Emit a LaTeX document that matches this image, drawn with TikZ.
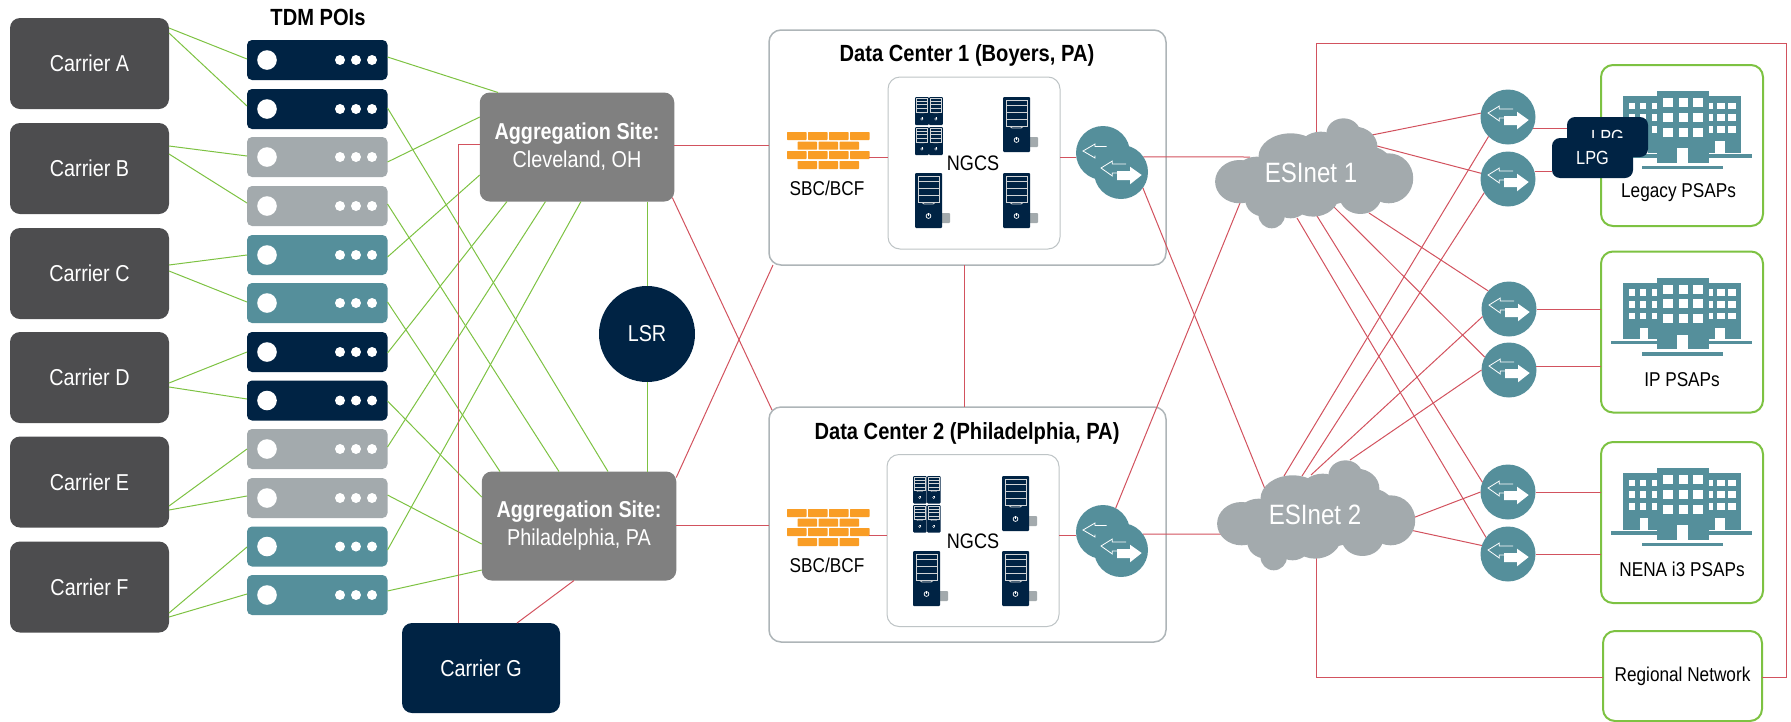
\documentclass[tikz,border=0pt]{standalone}
\usepackage{fontspec}
\setmainfont[FakeStretch=0.86]{Liberation Sans}
\usetikzlibrary{shapes.geometric}
\definecolor{navy}{HTML}{002344}
\definecolor{cgray}{HTML}{A3AAAD}
\definecolor{teal2}{HTML}{558F9B}
\definecolor{dgray}{HTML}{4D4D4F}
\definecolor{agray}{HTML}{808080}
\definecolor{lgreen}{HTML}{7DC242}
\definecolor{lred}{HTML}{D2525E}
\definecolor{brick}{HTML}{F99D25}
\definecolor{bordergray}{HTML}{AEB5B8}
\newcommand\fsz[1]{\fontsize{#1}{#1}\selectfont}
\tikzset{
  every node/.style={inner sep=0pt,outer sep=0pt},
  carrierbox/.style={rounded corners=10pt,fill=dgray,text=white,minimum width=159pt,minimum height=91pt,font=\fsz{23}},
  poibox/.style={rounded corners=5pt,minimum width=140.5pt,minimum height=40pt},
  aggbox/.style={rounded corners=10pt,fill=agray,text=white,minimum width=194.5pt,minimum height=109pt,align=center,font=\fontsize{23}{28}\selectfont},
  dcbox/.style={rounded corners=12pt,draw=bordergray,line width=1.5pt,fill=white,minimum width=397pt,minimum height=235pt},
  ngcsbox/.style={rounded corners=12pt,draw=bordergray!80,line width=1pt,fill=white,minimum width=172pt,minimum height=172pt},
  psapbox/.style={rounded corners=12pt,draw=lgreen,line width=2pt,fill=white,minimum width=162pt,minimum height=161pt},
  lpgbox/.style={rounded corners=8pt,fill=navy,text=white,minimum width=81pt,minimum height=40pt,font=\fsz{19}},
  routernode/.style={circle,fill=teal2,minimum size=55pt},
  gline/.style={draw=lgreen,line width=1pt},
  rline/.style={draw=lred,line width=1pt},
  blacklabel/.style={text=black,font=\fsz{20}},
  titlelabel/.style={text=black,font=\bfseries\fsz{23.4}},
}
% POI server unit
\newcommand\poiunit[3]{%
  \node[poibox,fill=#3] (#1) at (317.25,#2) {};
  \fill[white] (267,#2) circle (9.8pt);
  \foreach \dx in {340,356,372} \fill[white] (\dx,#2) circle (5pt);
}
% arrows inside a router, centred at (#1,#2)
\newcommand\arrowglyph[2]{%
  \begin{scope}[shift={(#1,#2)}]
    \draw[white,line width=0.8pt,line join=miter] (5,-8) -- (-8.7,-8) -- (-8.7,-11) -- (-20,-4) -- (-8.7,4) -- (-8.7,1) -- (-3,1);
    \fill[white] (-4,-1) -- (9,-1) -- (9,-5.3) -- (20.7,3) -- (9,12.3) -- (9,8) -- (-4,8) -- cycle;
  \end{scope}
}
\newcommand\thinarrow[2]{%
  \begin{scope}[shift={(#1,#2)}]
    \draw[white,line width=0.8pt,line join=miter] (3.5,-6.5) -- (-8,-6.5) -- (-8,-9) -- (-20,-2) -- (-8,5) -- (-8,2.5);
  \end{scope}
}
\newcommand\servertower[3]{%
  \begin{scope}[shift={(#1,#2)},xscale=#3,yscale=#3]
    \fill[navy,rounded corners=1pt] (0,0) rectangle (27,55);
    \draw[cgray!50!white,line width=#3*0.9pt] (3,3) rectangle (24,29);
    \foreach \yy in {8,15,22} \draw[cgray!50!white,line width=#3*0.9pt] (3,\yy) -- (24,\yy);
    \draw[cgray!50!white,line width=#3*0.9pt] (7,29.5) -- (9,31) -- (18,31) -- (20,29.5);
    \draw[white,line width=#3*0.7pt] (13.5,43) circle (2.4);
    \draw[white,line width=#3*0.7pt] (13.5,40) -- (13.5,42.5);
  \end{scope}
}
\newcommand\bigtower[2]{%
  \begin{scope}[shift={(#1,#2)}]
    \fill[cgray,rounded corners=1pt] (25,40) rectangle (35,50);
  \end{scope}
  \servertower{#1}{#2}{1}%
}
\newcommand\firewall[1]{%
  \begin{scope}[shift={(787,#1)}]
    \foreach \xx in {0,21,42,63} {
      \fill[brick,rounded corners=0.6pt] (\xx,0) rectangle ++(19.5,8);
      \fill[brick,rounded corners=0.6pt] (\xx,19) rectangle ++(19.5,8);
    }
    \foreach \xx in {10.5,31.5,52.5} {
      \fill[brick,rounded corners=0.6pt] (\xx,9.7) rectangle ++(19.5,8);
      \fill[brick,rounded corners=0.6pt] (\xx,29) rectangle ++(19.5,8);
    }
  \end{scope}
}
% building, local coordinates of the Legacy building, offset dy
\newcommand\buildingicon[1]{%
  \begin{scope}[shift={(1200,30+#1)},xscale=0.3774,yscale=0.3333]
    \fill[teal2] (1122,198) rectangle (1433,368);
    \fill[teal2] (1210,183) rectangle (1348,398);
    \fill[teal2] (1090,373) rectangle (1462,383);
    \fill[teal2] (1172,407) rectangle (1386,417);
    \fill[white] (1165,333) rectangle (1187,373);
    \fill[white] (1365,333) rectangle (1390,373);
    \fill[white] (1265,355) rectangle (1293,398);
    \foreach \yy in {218,253,288} {
      \foreach \xx/\ww in {1137/16,1167/16,1198/12,1348/10,1370/20,1400/20}
        \fill[white] (\xx,\yy) rectangle ++(\ww,20);
    }
    \foreach \yy in {205,248,293} {
      \foreach \xx in {1227,1268,1307}
        \fill[white] (\xx,\yy) rectangle ++(25,27);
    }
  \end{scope}
}
\newcommand\cloudshape[2]{%
  \begin{scope}[shift={(#1,#2)},xscale=0.3774,yscale=0.3333]
    \foreach \a/\b/\c/\d in {380/310/45/45,240/380/85/70,320/360/60/55,410/350/60/60,500/445/65/75,450/410/60/60,105/455/65/65,150/440/60/60,190/555/35/40,170/510/50/50,240/510/50/55,300/490/70/70,425/500/55/52,300/440/150/90}
      \fill[cgray] (\a,\b) ellipse [x radius=\c,y radius=\d];
  \end{scope}
}
\begin{document}
\begin{tikzpicture}[x=1pt,y=-1pt]
\useasboundingbox (0,0) rectangle (1791,721);
% carriers
\node[carrierbox] (carA) at (89.5,63.5) {Carrier A};
\node[carrierbox] (carB) at (89.5,168.5) {Carrier B};
\node[carrierbox] (carC) at (89.5,273.5) {Carrier C};
\node[carrierbox] (carD) at (89.5,377.5) {Carrier D};
\node[carrierbox] (carE) at (89.5,482) {Carrier E};
\node[carrierbox] (carF) at (89.5,587) {Carrier F};
\node[carrierbox,fill=navy,minimum width=158pt,minimum height=90pt] (carG) at (481,668) {Carrier G};
% POIs
\node[titlelabel] (poititle) at (318,17) {TDM POIs};
\poiunit{poi1}{60}{navy}
\poiunit{poi2}{109}{navy}
\poiunit{poi3}{157}{cgray}
\poiunit{poi4}{206}{cgray}
\poiunit{poi5}{255}{teal2}
\poiunit{poi6}{303}{teal2}
\poiunit{poi7}{352}{navy}
\poiunit{poi8}{400.5}{navy}
\poiunit{poi9}{449}{cgray}
\poiunit{poi10}{498}{cgray}
\poiunit{poi11}{546.5}{teal2}
\poiunit{poi12}{595}{teal2}
% aggregation, LSR
\node[aggbox] (agg1) at (577,147) {\textbf{Aggregation Site:}\\Cleveland, OH};
\node[aggbox] (agg2) at (579,526) {\textbf{Aggregation Site:}\\Philadelphia, PA};
\node[circle,fill=navy,text=white,minimum size=96pt,font=\fsz{23}] (lsr) at (647,334) {LSR};
% data centers
\node[dcbox] (dc1) at (967.5,147.5) {};
\node[dcbox] (dc2) at (967.5,524.5) {};
\node[ngcsbox] (ngcsb1) at (974,163) {};
\node[ngcsbox] (ngcsb2) at (973,540.5) {};
\node[titlelabel] (dc1title) at (967,55) {Data Center 1 (Boyers, PA)};
\node[titlelabel] (dc2title) at (967,433) {Data Center 2 (Philadelphia, PA)};
\node[blacklabel,font=\fsz{21}] (ngcs1) at (973,163) {NGCS};
\node[blacklabel,font=\fsz{21}] (ngcs2) at (973,541) {NGCS};
\node[blacklabel] (sbc1) at (827,188) {SBC/BCF};
\node[blacklabel] (sbc2) at (827,565) {SBC/BCF};
\node[minimum width=82pt,minimum height=37pt] (fw1) at (828,150.5) {};
\node[minimum width=82pt,minimum height=37pt] (fw2) at (828,527.5) {};
\firewall{132}
\firewall{509}
% servers
\servertower{915}{97}{0.51}
\servertower{929}{97}{0.51}
\servertower{915}{127}{0.51}
\servertower{929}{127}{0.51}
\bigtower{1003}{97}
\bigtower{915}{173}
\bigtower{1003}{173}
\servertower{913}{476}{0.5}
\servertower{927}{476}{0.5}
\servertower{913}{505}{0.5}
\servertower{927}{505}{0.5}
\bigtower{1002}{476}
\bigtower{913}{551}
\bigtower{1002}{551}
% data-center routers
\node[routernode,minimum size=54pt] (dr1a) at (1103,153) {};
\thinarrow{1103}{153}
\node[routernode,minimum size=54pt] (dr1b) at (1121,172) {};
\arrowglyph{1121}{172}
\node[routernode,minimum size=54pt] (dr2a) at (1103,532) {};
\thinarrow{1103}{532}
\node[routernode,minimum size=54pt] (dr2b) at (1121,550) {};
\arrowglyph{1121}{550}
% PSAP boxes
\node[psapbox] (legacy) at (1682,145.5) {};
\node[psapbox] (ipp) at (1682,332) {};
\node[psapbox] (nena) at (1682,522.5) {};
\node[psapbox,blacklabel,minimum width=159pt,minimum height=90pt] (regional) at (1682.5,676) {Regional Network};
\buildingicon{0}
\buildingicon{186.67}
\buildingicon{377}
\node[blacklabel] (legacyl) at (1678.5,193) {Legacy PSAPs};
\node[blacklabel] (ipl) at (1682,380) {IP PSAPs};
\node[blacklabel] (nenal) at (1682,569) {NENA i3 PSAPs};
\node[lpgbox] (lpg1) at (1607.5,137) {LPG};
\node[lpgbox] (lpg2) at (1592.5,158) {LPG};
% routers
\node[routernode] (r1) at (1508,117) {}; \arrowglyph{1508}{117}
\node[routernode] (r2) at (1508,179) {}; \arrowglyph{1508}{179}
\node[routernode] (r3) at (1509,309) {}; \arrowglyph{1509}{309}
\node[routernode] (r4) at (1509,370) {}; \arrowglyph{1509}{370}
\node[routernode] (r5) at (1508,492) {}; \arrowglyph{1508}{492}
\node[routernode] (r6) at (1508,554) {}; \arrowglyph{1508}{554}
% cloud ports
\coordinate (e1w) at (1250,157);
\coordinate (e1t) at (1316,140);
\coordinate (e1a) at (1372,135);
\coordinate (e1b) at (1377,146);
\coordinate (e1c) at (1369,213);
\coordinate (e1d) at (1334,207);
\coordinate (e1e) at (1317,216);
\coordinate (e1f) at (1297,218);
\coordinate (e1g) at (1240,203);
\coordinate (e2w) at (1230,534);
\coordinate (e2b) at (1316,550);
\coordinate (e2a) at (1284,476);
\coordinate (e2c) at (1302,476);
\coordinate (e2d) at (1311,475);
\coordinate (e2e) at (1350,460);
\coordinate (e2f) at (1410,519);
\coordinate (e2g) at (1410,530);
\coordinate (e2h) at (1265,489);
\coordinate (topl) at (1316,43);
\coordinate (topr) at (1786,43);
\coordinate (botr) at (1786,677);
\coordinate (botl) at (1316,677);
\coordinate (gbend) at (458,144);
% green connectors
\draw[gline] (carA.east |- 0,28) -- (poi1.west |- 0,59);
\draw[gline] (carA.east |- 0,33) -- (poi2.west |- 0,106);
\draw[gline] (carB.east |- 0,146) -- (poi3.west |- 0,156);
\draw[gline] (carB.east |- 0,154) -- (poi4.west |- 0,203);
\draw[gline] (carC.east |- 0,265) -- (poi5.west |- 0,255);
\draw[gline] (carC.east |- 0,271) -- (poi6.west |- 0,302);
\draw[gline] (carD.east |- 0,383) -- (poi7.west |- 0,352);
\draw[gline] (carD.east |- 0,387) -- (poi8.west |- 0,399);
\draw[gline] (carE.east |- 0,506) -- (poi9.west |- 0,449);
\draw[gline] (carE.east |- 0,510) -- (poi10.west |- 0,496);
\draw[gline] (carF.east |- 0,613) -- (poi11.west |- 0,547);
\draw[gline] (carF.east |- 0,617) -- (poi12.west |- 0,594);
\draw[gline] (poi1.east |- 0,57) -- (agg1.north -| 498,0);
\draw[gline] (poi3.east |- 0,162) -- (agg1.west |- 0,117);
\draw[gline] (poi5.east |- 0,257) -- (agg1.west |- 0,175);
\draw[gline] (poi7.east |- 0,353) -- (agg1.south -| 507,0);
\draw[gline] (poi9.east |- 0,447) -- (agg1.south -| 545.5,0);
\draw[gline] (poi11.east |- 0,550) -- (agg1.south -| 581,0);
\draw[gline] (poi2.east |- 0,108) -- (agg2.north -| 608,0);
\draw[gline] (poi4.east |- 0,204) -- (agg2.north -| 559,0);
\draw[gline] (poi6.east |- 0,302) -- (agg2.north -| 500,0);
\draw[gline] (poi8.east |- 0,401) -- (agg2.west |- 0,497);
\draw[gline] (poi10.east |- 0,495) -- (agg2.west |- 0,544);
\draw[gline] (poi12.east |- 0,591) -- (agg2.west |- 0,570);
\draw[gline] (agg1.south -| lsr.north) -- (lsr.north);
\draw[gline] (lsr.south) -- (agg2.north -| lsr.south);
% red connectors
\draw[rline] (agg1.west |- gbend) -- (gbend) -- (gbend |- carG.north);
\draw[rline] (carG.north -| 517,0) -- (agg2.south -| 574,0);
\draw[rline] (agg1.east |- 0,145) -- (dc1.west |- 0,145);
\draw[rline] (agg2.east |- 0,525) -- (dc2.west |- 0,525);
\draw[rline] ([shift={(-2,-4)}]agg1.south east) -- ([shift={(3,3)}]dc2.north west);
\draw[rline] ([shift={(0,6)}]agg2.north east) -- ([shift={(4,0)}]dc1.south west);
\draw[rline] (dc1.south -| 964,0) -- (dc2.north -| 964,0);
\draw[rline] (fw1.east |- 0,157) -- (ngcsb1.west |- 0,157);
\draw[rline] (ngcsb1.east |- 0,157) -- (dr1a.west |- 0,157);
\draw[rline] (dr1b.34) -- (e1w);
\draw[rline] (fw2.east |- 0,535) -- (ngcsb2.west |- 0,535);
\draw[rline] (ngcsb2.east |- 0,535) -- (dr2a.west |- 0,535);
\draw[rline] (dr2b.36) -- (e2w);
\draw[rline] (dr1b.-36) -- (e2h);
\draw[rline] (dr2a.62) -- (e1g);
\draw[rline] (e1t) -- (topl) -- (topr) -- (botr) -- (regional.east |- botr);
\draw[rline] (regional.west |- botl) -- (botl) -- (e2b);
\draw[rline] (e1a) -- (r1.172);
\draw[rline] (e1b) -- (r2.168);
\draw[rline] (e1c) -- (r3.139);
\draw[rline] (e1d) -- (r4.152);
\draw[rline] (e1e) -- (r5.159);
\draw[rline] (e1f) -- (r6.143);
\draw[rline] (e2a) -- (r1.225);
\draw[rline] (e2c) -- (r2.210);
\draw[rline] (e2d) -- (r3.196);
\draw[rline] (e2e) -- (r4.180);
\draw[rline] (e2f) -- (r5.180);
\draw[rline] (e2g) -- (r6.162);
\draw[rline] (r1.-24) -- (lpg1.west |- r1.-24);
\draw[rline] (r2.15) -- (lpg2.west |- r2.15);
\draw[rline] (r3.east) -- (ipp.west |- r3.east);
\draw[rline] (r4.8) -- (ipp.west |- r4.8);
\draw[rline] (r5.east) -- (nena.west |- r5.east);
\draw[rline] (r6.east) -- (nena.west |- r6.east);
% clouds
\cloudshape{1200}{30}
\cloudshape{1202}{372}
\node[text=white,font=\fsz{28}] (es1) at (1311,173) {ESInet 1};
\node[text=white,font=\fsz{28}] (es2) at (1315,515) {ESInet 2};
\end{tikzpicture}
\end{document}
